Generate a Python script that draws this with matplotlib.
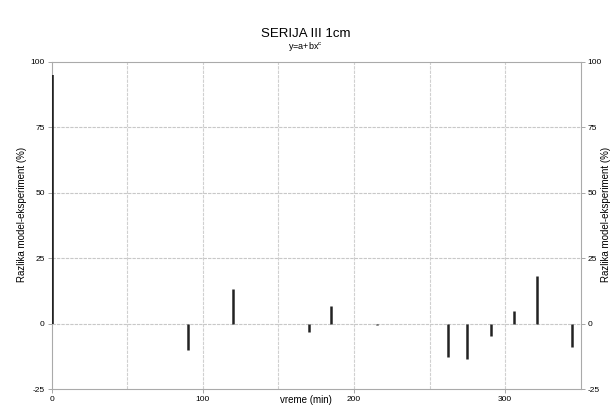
import numpy as np
import matplotlib
matplotlib.use('agg')
import matplotlib.pyplot as plt

plt.rcParams['font.family'] = ['Liberation Sans', 'DejaVu Sans']
plt.rcParams['axes.unicode_minus'] = False

# time (min) and model-experiment difference (%)
vreme = [0, 90, 120, 170, 185, 215, 262, 275, 291, 306, 321, 344]
razlika = [95, -10.2, 13, -3.2, 6.5, -0.5, -12.7, -13.6, -4.8, 4.7, 18.2, -8.9]
xticks = [0, 100, 200, 300]
yticks = [-25, 0, 25, 50, 75, 100]

fig = plt.figure(figsize=(6.11, 4.05), dpi=100)
ax = fig.add_axes([0.0848, 0.0395, 0.8655, 0.8085])

for x in [50, 100, 150, 200, 250, 300]:
    ax.axvline(x, color='#d0d0d0', lw=0.8, ls=(0, (3, 1)), zorder=1)
for y in [0, 25, 50, 75]:
    ax.axhline(y, color='#c8c8c8', lw=0.8, ls=(0, (3, 1)), zorder=1)

for i, (x, y) in enumerate(zip(vreme, razlika)):
    lw = 2.6 if i == 0 else 1.8
    ax.vlines(x, 0, y, color='#222222', lw=lw, zorder=3)

ax.set_xlim(0, 350)
ax.set_ylim(-25, 100)
ax.set_xticks(xticks)
ax.set_yticks(yticks)
ax.tick_params(labelsize=6, length=3, width=0.6, color='#999999', pad=2,
               right=True, labelright=True)
for s in ax.spines.values():
    s.set_color('#aaaaaa')
    s.set_linewidth(0.8)

fig.text(0.5, 0.915, 'SERIJA III 1cm', ha='center', va='center', fontsize=9.5)
fig.text(0.5, 0.885, 'y=a+bx$^{\\mathregular{c}}$', ha='center', va='center', fontsize=6.5)
fig.text(0.5, 0.0, 'vreme (min)', ha='center', va='bottom', fontsize=7)
fig.text(0.036, 0.47, 'Razlika model-eksperiment (%)', rotation=90,
         ha='center', va='center', fontsize=7)
fig.text(1.0, 0.47, 'Razlika model-eksperiment (%)', rotation=90,
         ha='right', va='center', fontsize=7)

fig.savefig('out.png', dpi=100)
